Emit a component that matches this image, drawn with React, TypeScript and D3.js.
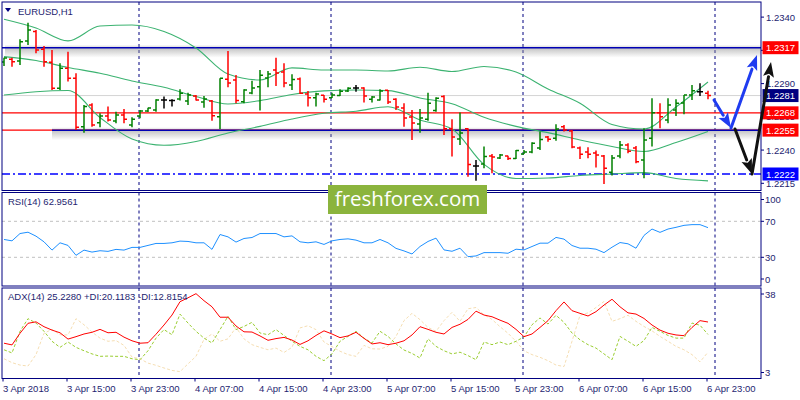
import React, { useEffect, useRef } from "react";
import * as d3 from "d3";

// EURUSD H1, one bar per hour from 3 Apr 07:00
const barOpen = [
  1.23063, 1.23083, 1.2307, 1.23221, 1.23291, 1.23158, 1.2306, 1.22865, 1.23015, 1.2294,
  1.22576, 1.22739, 1.22606, 1.22657, 1.22619, 1.22664, 1.22589, 1.22657, 1.22694, 1.22702,
  1.22777, 1.22772, 1.22785, 1.2277, 1.22807, 1.22762, 1.2277, 1.22651, 1.22933, 1.22927,
  1.22764, 1.2283, 1.22877, 1.22942, 1.23003, 1.22988, 1.2289, 1.22935, 1.22822, 1.22794,
  1.22812, 1.22794, 1.2281, 1.22845, 1.22867, 1.22867, 1.22782, 1.22777, 1.2285, 1.22782,
  1.22717, 1.22649, 1.22597, 1.22632, 1.22697, 1.22802, 1.22561, 1.22484, 1.22561, 1.22281,
  1.22296, 1.22356, 1.22341, 1.22356, 1.22336, 1.22371, 1.22386, 1.22416, 1.22499, 1.22489,
  1.22576, 1.22544, 1.22416, 1.22386, 1.22378, 1.22356, 1.22233, 1.22356, 1.22439, 1.22416,
  1.22326, 1.22489, 1.22681, 1.22627, 1.22702, 1.22754, 1.22815, 1.22839, 1.22827,
];
const barHigh = [
  1.23095, 1.23095, 1.23233, 1.23358, 1.23303, 1.23183, 1.23153, 1.23053, 1.2314, 1.22978,
  1.22739, 1.22752, 1.22677, 1.22727, 1.22689, 1.22709, 1.22647, 1.22702, 1.22719, 1.22782,
  1.22802, 1.22782, 1.22858, 1.22832, 1.22815, 1.22807, 1.22777, 1.2294, 1.23146, 1.22965,
  1.22858, 1.22922, 1.23003, 1.22995, 1.23095, 1.23053, 1.2297, 1.22945, 1.22845, 1.22832,
  1.22815, 1.22832, 1.22858, 1.22873, 1.2289, 1.22873, 1.22807, 1.22858, 1.22852, 1.2279,
  1.22752, 1.22702, 1.22709, 1.22832, 1.22797, 1.22812, 1.22632, 1.22682, 1.22564, 1.22326,
  1.22426, 1.22371, 1.22371, 1.22358, 1.22401, 1.22401, 1.22459, 1.22539, 1.22506, 1.22594,
  1.22589, 1.22551, 1.22426, 1.22421, 1.22396, 1.22363, 1.22363, 1.22469, 1.22451, 1.22431,
  1.22564, 1.2279, 1.22752, 1.2279, 1.22782, 1.22815, 1.2289, 1.22902, 1.22847,
];
const barLow = [
  1.23033, 1.23027, 1.2304, 1.23191, 1.23128, 1.23027, 1.22852, 1.22852, 1.22915, 1.22551,
  1.22531, 1.22576, 1.22572, 1.22614, 1.22602, 1.22602, 1.22572, 1.22639, 1.22687, 1.22689,
  1.22712, 1.22727, 1.22772, 1.22739, 1.22772, 1.22719, 1.22621, 1.22559, 1.22873, 1.22752,
  1.22752, 1.2282, 1.22697, 1.22873, 1.22882, 1.22873, 1.22852, 1.22822, 1.22727, 1.22727,
  1.22757, 1.22792, 1.22807, 1.22837, 1.22839, 1.22757, 1.22757, 1.22772, 1.22747, 1.22702,
  1.22576, 1.22476, 1.22531, 1.22621, 1.22689, 1.22514, 1.22351, 1.22439, 1.222, 1.2217,
  1.22263, 1.22226, 1.22333, 1.22326, 1.22333, 1.22371, 1.22376, 1.22401, 1.22463, 1.22471,
  1.22539, 1.22414, 1.22333, 1.22339, 1.22268, 1.22145, 1.22208, 1.22339, 1.22376, 1.22301,
  1.22188, 1.22426, 1.22564, 1.22602, 1.22657, 1.2267, 1.22777, 1.22807, 1.22782,
];
const barClose = [
  1.23093, 1.23065, 1.23215, 1.23303, 1.23153, 1.23065, 1.22865, 1.23015, 1.2294, 1.22572,
  1.22727, 1.22589, 1.22657, 1.22627, 1.22664, 1.22632, 1.22632, 1.22694, 1.22717, 1.22777,
  1.22777, 1.22772, 1.22828, 1.22815, 1.22777, 1.22785, 1.22659, 1.2294, 1.22905, 1.22772,
  1.22852, 1.22867, 1.22963, 1.22973, 1.2298, 1.22905, 1.2293, 1.22828, 1.22794, 1.22822,
  1.22782, 1.22815, 1.22842, 1.22865, 1.22867, 1.22807, 1.228, 1.22845, 1.22762, 1.22724,
  1.22642, 1.22604, 1.22642, 1.22752, 1.2279, 1.22561, 1.22499, 1.22529, 1.22291, 1.22281,
  1.22351, 1.22348, 1.22363, 1.22336, 1.22396, 1.22386, 1.22451, 1.22479, 1.22482, 1.22559,
  1.22551, 1.22424, 1.22369, 1.22369, 1.22363, 1.22263, 1.22341, 1.22439, 1.22391, 1.22313,
  1.22476, 1.22681, 1.22651, 1.22739, 1.22752, 1.22815, 1.22847, 1.22839, 1.2281,
];

// Bollinger bands read every 4 bars
const bandBars = [0, 4, 8, 12, 16, 20, 24, 28, 32, 36, 40, 44, 48, 52, 56, 60, 64, 68, 72, 76, 80, 84, 88];
const bbUpper = [
  1.23384, 1.23318, 1.23221, 1.23333, 1.23341, 1.23292, 1.23168, 1.22972, 1.22927, 1.23018, 1.23002, 1.23002,
  1.22995, 1.23023, 1.22991, 1.23029, 1.22987, 1.2286, 1.22752, 1.22593, 1.22559, 1.22724, 1.22912,
];
const bbMiddle = [
  1.23103, 1.23074, 1.23021, 1.22978, 1.2292, 1.22872, 1.22803, 1.22747, 1.22772, 1.22818, 1.22845, 1.22852,
  1.22847, 1.22792, 1.22749, 1.22647, 1.22578, 1.22531, 1.22476, 1.22427, 1.22389, 1.22457, 1.2254,
];
const bbLower = [
  1.22814, 1.22839, 1.22848, 1.22645, 1.22483, 1.22436, 1.22465, 1.22529, 1.22578, 1.22634, 1.22677, 1.22692,
  1.22726, 1.22626, 1.22559, 1.22292, 1.22186, 1.2219, 1.22209, 1.2222, 1.2223, 1.22186, 1.22168,
];

const rsi = [
  49.8, 48.3, 56.4, 57.9, 53.5, 47.2, 38.0, 46.1, 43.2, 32.2,
  38.0, 35.8, 37.3, 36.6, 38.8, 38.0, 41.0, 41.0, 43.2, 45.4,
  45.4, 46.1, 48.0, 47.6, 46.1, 46.1, 38.8, 55.3, 52.7, 46.9,
  50.9, 52.0, 56.4, 56.4, 56.4, 52.7, 53.8, 47.2, 46.1, 47.2,
  44.3, 48.3, 49.8, 50.5, 49.1, 46.1, 46.1, 49.8, 46.1, 39.9,
  37.1, 33.7, 42.0, 47.6, 51.3, 38.2, 36.7, 40.1, 30.7, 31.5,
  35.2, 35.2, 35.2, 34.5, 39.0, 38.2, 42.0, 45.7, 45.7, 52.1,
  50.2, 43.1, 40.1, 40.1, 39.0, 35.2, 41.2, 46.4, 45.0, 40.1,
  54.3, 61.4, 57.7, 61.4, 63.3, 65.5, 66.3, 66.3, 62.96,
];
const adx = [
  16.5, 15.8, 20.6, 24.7, 25.3, 23.3, 21.9, 20.8, 18.2, 19.2,
  20.3, 21.0, 22.2, 20.8, 21.0, 19.0, 17.5, 16.5, 16.7, 20.2,
  24.0, 28.1, 33.6, 35.2, 36.9, 34.0, 31.5, 27.2, 27.2, 23.6,
  21.2, 21.1, 19.5, 17.7, 18.4, 18.9, 17.8, 16.0, 17.5, 19.7,
  21.6, 20.3, 18.8, 19.5, 21.0, 18.5, 16.2, 16.7, 15.9, 16.5,
  17.5, 19.9, 23.3, 22.2, 21.0, 20.3, 23.0, 24.3, 26.3, 29.7,
  28.1, 27.4, 26.0, 24.7, 22.2, 19.2, 20.3, 23.0, 25.8, 29.9,
  33.5, 29.9, 28.8, 27.7, 29.5, 32.2, 34.6, 31.5, 29.0, 28.5,
  26.7, 24.0, 21.9, 20.6, 19.9, 19.6, 23.0, 25.8, 25.23,
];
const plusDi = [
  13.8, 12.5, 21.4, 26.6, 24.8, 21.4, 17.3, 14.8, 17.0, 14.8,
  13.4, 12.1, 11.1, 11.2, 11.1, 11.1, 10.1, 9.7, 13.4, 18.6,
  22.1, 20.0, 28.5, 24.8, 21.4, 18.6, 16.6, 22.1, 27.6, 22.1,
  23.4, 25.1, 20.7, 20.0, 22.1, 19.7, 17.3, 15.2, 13.8, 11.1,
  9.3, 12.1, 17.3, 19.3, 21.4, 18.6, 16.6, 21.4, 19.3, 16.2,
  13.7, 12.3, 10.4, 18.3, 15.2, 13.4, 12.1, 12.8, 11.4, 9.7,
  17.0, 15.9, 17.0, 15.9, 17.3, 19.1, 24.1, 26.9, 24.4, 28.0,
  25.1, 20.7, 17.9, 15.9, 14.5, 12.1, 9.7, 19.3, 17.3, 15.2,
  17.6, 23.0, 21.4, 19.7, 18.6, 18.6, 24.8, 23.9, 20.12,
];
const minusDi = [
  10.1, 8.5, 7.5, 7.1, 11.8, 20.6, 22.2, 20.0, 19.9, 26.6,
  24.1, 21.1, 18.6, 17.3, 17.6, 15.6, 10.8, 10.1, 8.3, 7.4,
  6.3, 5.3, 4.8, 8.0, 11.1, 18.1, 20.3, 17.3, 18.3, 23.0,
  18.3, 15.9, 14.8, 13.8, 14.5, 12.7, 14.8, 22.8, 23.7, 22.1,
  17.0, 15.1, 13.2, 11.8, 11.1, 15.6, 14.2, 14.1, 15.2, 19.3,
  25.8, 28.8, 26.2, 23.0, 21.4, 25.8, 29.2, 25.5, 30.7, 31.2,
  28.2, 26.3, 23.3, 20.6, 17.3, 13.4, 11.8, 10.7, 9.3, 7.5,
  6.9, 17.3, 28.0, 29.0, 31.2, 33.7, 25.5, 26.6, 28.0, 25.5,
  23.4, 21.6, 19.3, 17.3, 15.2, 13.8, 11.8, 8.8, 12.82,
];

const timeLabels = [
  "3 Apr 2018", "3 Apr 15:00", "3 Apr 23:00", "4 Apr 07:00", "4 Apr 15:00", "4 Apr 23:00",
  "5 Apr 07:00", "5 Apr 15:00", "5 Apr 23:00", "6 Apr 07:00", "6 Apr 15:00", "6 Apr 23:00",
];
const timeLabelBars = [0, 8, 16, 24, 32, 40, 48, 56, 64, 72, 80, 88];
const daySeparatorBars = [17, 41, 65, 89];

const priceTicks = [1.234, 1.2315, 1.229, 1.2265, 1.224, 1.2215];
const rsiTicks = [100, 70, 30, 0];
const rsiLevels = [70, 30];
const adxTicks = [38, 3];

const resistance = 1.2317;
const support = 1.2255;
const supportStartBar = 6;
const pivot = 1.2268;
const bid = 1.2281;
const lowTarget = 1.2222;
const tagValues = [1.2317, 1.2281, 1.2268, 1.2255, 1.2222];

// hand-drawn forecast arrows (bar index, price)
const blueArrowBars = [88.75, 90.875, 94.125];
const blueArrowPrices = [1.22777, 1.22566, 1.23115];
const blackArrowBars = [91.375, 93.5, 95.875];
const blackArrowPrices = [1.22559, 1.2222, 1.23063];

export default function App() {
  const svgRef = useRef<SVGSVGElement | null>(null);

  useEffect(() => {
    if (!svgRef.current) return;
    const svg = d3.select(svgRef.current);
    svg.selectAll("*").remove();

    const FONT = "'Liberation Sans', Arial, sans-serif";
    const NAVY = "#000080";
    const TXT = "#1e1e70";
    const left = 2;
    const right = 761;
    const main = { top: 2, bottom: 190.5 };
    const rsiP = { top: 192.5, bottom: 286 };
    const adxP = { top: 288, bottom: 378.5 };

    const x = d3.scaleLinear().domain([0, 88]).range([4, 708]);
    const y = d3.scaleLinear().domain([1.2222, 1.2317]).range([174, 47.7]);
    const yR = d3.scaleLinear().domain([30, 70]).range([257.3, 221.3]);
    const yA = d3.scaleLinear().domain([3, 38]).range([376, 291]);

    svg.append("rect").attr("width", 800).attr("height", 400).attr("fill", "#fff");

    const defs = svg.append("defs");
    const grad = defs.append("linearGradient").attr("id", "shade").attr("x1", 0).attr("x2", 0).attr("y1", 0).attr("y2", 1);
    grad.append("stop").attr("offset", "0%").attr("stop-color", "#999").attr("stop-opacity", 0);
    grad.append("stop").attr("offset", "30%").attr("stop-color", "#999").attr("stop-opacity", 0.55);
    grad.append("stop").attr("offset", "100%").attr("stop-color", "#999").attr("stop-opacity", 0);

    const panels = [
      { id: "clipMain", p: main },
      { id: "clipRsi", p: rsiP },
      { id: "clipAdx", p: adxP },
    ];
    panels.forEach(({ id, p }) => {
      defs.append("clipPath").attr("id", id).append("rect")
        .attr("x", left).attr("y", p.top).attr("width", right - left).attr("height", p.bottom - p.top);
    });

    // day separators across all panels
    panels.forEach(({ p }) => {
      daySeparatorBars.forEach((b) => {
        svg.append("line")
          .attr("x1", x(b) - 1).attr("x2", x(b) - 1)
          .attr("y1", p.top).attr("y2", p.bottom)
          .attr("stroke", NAVY).attr("stroke-width", 1).attr("stroke-dasharray", "3,3");
      });
    });

    // ---------- main price panel ----------
    const gm = svg.append("g").attr("clip-path", "url(#clipMain)");

    gm.append("line").attr("x1", left).attr("x2", right).attr("y1", y(bid)).attr("y2", y(bid))
      .attr("stroke", "#d4d4d4").attr("stroke-width", 1);

    // shaded blue levels
    gm.append("rect").attr("x", left + 3).attr("width", right - left - 3)
      .attr("y", y(resistance) - 3).attr("height", 13).attr("fill", "url(#shade)");
    gm.append("rect").attr("x", x(supportStartBar)).attr("width", right - x(supportStartBar))
      .attr("y", y(support) - 3).attr("height", 13).attr("fill", "url(#shade)");

    gm.append("line").attr("x1", left).attr("x2", right).attr("y1", y(pivot)).attr("y2", y(pivot))
      .attr("stroke", "#ff0000").attr("stroke-width", 1.3);
    gm.append("line").attr("x1", left).attr("x2", right).attr("y1", y(support)).attr("y2", y(support))
      .attr("stroke", "#ff0000").attr("stroke-width", 1.3);
    gm.append("line").attr("x1", x(supportStartBar)).attr("x2", right).attr("y1", y(support)).attr("y2", y(support))
      .attr("stroke", "#0000b4").attr("stroke-width", 1.5);
    gm.append("line").attr("x1", left).attr("x2", right).attr("y1", y(resistance)).attr("y2", y(resistance))
      .attr("stroke", "#0000b4").attr("stroke-width", 1.5);
    gm.append("line").attr("x1", left).attr("x2", right).attr("y1", y(lowTarget)).attr("y2", y(lowTarget))
      .attr("stroke", "#0000ff").attr("stroke-width", 1.5).attr("stroke-dasharray", "8,3,2,3");

    // bollinger bands
    [bbUpper, bbMiddle, bbLower].forEach((band) => {
      const line = d3.line<number>()
        .x((_, k) => x(bandBars[k]))
        .y((v) => y(v))
        .curve(d3.curveMonotoneX);
      gm.append("path").datum(band).attr("fill", "none")
        .attr("stroke", "#3cb371").attr("stroke-width", 1.1).attr("d", line);
    });

    // OHLC bars
    barOpen.forEach((o, i) => {
      const c = barClose[i];
      const col = c > o ? "#008000" : c < o ? "#ff0000" : "#000000";
      const cx = x(i);
      gm.append("line").attr("x1", cx).attr("x2", cx).attr("y1", y(barHigh[i])).attr("y2", y(barLow[i]))
        .attr("stroke", col).attr("stroke-width", 1.5);
      gm.append("line").attr("x1", cx - 3).attr("x2", cx).attr("y1", y(o)).attr("y2", y(o))
        .attr("stroke", col).attr("stroke-width", 1.5);
      gm.append("line").attr("x1", cx).attr("x2", cx + 3).attr("y1", y(c)).attr("y2", y(c))
        .attr("stroke", col).attr("stroke-width", 1.5);
    });

    svg.append("path").attr("d", "M5,8 L11,8 L8,12 Z").attr("fill", NAVY);
    svg.append("text").attr("x", 18).attr("y", 15).text("EURUSD,H1")
      .attr("font-family", FONT).attr("font-size", 9.5).attr("fill", TXT);

    // ---------- RSI panel ----------
    const gr = svg.append("g").attr("clip-path", "url(#clipRsi)");
    rsiLevels.forEach((lv) => {
      gr.append("line").attr("x1", left).attr("x2", right).attr("y1", yR(lv)).attr("y2", yR(lv))
        .attr("stroke", "#c0c0c0").attr("stroke-dasharray", "3,3");
    });
    gr.append("path").datum(rsi).attr("fill", "none").attr("stroke", "#1e90ff").attr("stroke-width", 1)
      .attr("d", d3.line<number>().x((_, i) => x(i)).y((v) => yR(v)));
    svg.append("text").attr("x", 8).attr("y", 205).text("RSI(14) 62.9561")
      .attr("font-family", FONT).attr("font-size", 9.5).attr("fill", TXT);

    // ---------- ADX panel ----------
    const ga = svg.append("g").attr("clip-path", "url(#clipAdx)");
    const adxLine = d3.line<number>().x((_, i) => x(i)).y((v) => yA(v));
    ga.append("path").datum(minusDi).attr("fill", "none").attr("stroke", "#f5deb3")
      .attr("stroke-width", 1).attr("stroke-dasharray", "3,2").attr("d", adxLine);
    ga.append("path").datum(plusDi).attr("fill", "none").attr("stroke", "#9acd32")
      .attr("stroke-width", 1).attr("stroke-dasharray", "3,2").attr("d", adxLine);
    ga.append("path").datum(adx).attr("fill", "none").attr("stroke", "#ff0000")
      .attr("stroke-width", 1).attr("d", adxLine);
    svg.append("text").attr("x", 8).attr("y", 300).text("ADX(14) 25.2280 +DI:20.1183 -DI:12.8154")
      .attr("font-family", FONT).attr("font-size", 9.5).attr("fill", TXT);

    // ---------- frames ----------
    panels.forEach(({ p }) => {
      svg.append("rect").attr("x", left).attr("y", p.top).attr("width", right - left).attr("height", p.bottom - p.top)
        .attr("fill", "none").attr("stroke", NAVY).attr("stroke-width", 1);
    });

    // ---------- right axis ----------
    const label = (tx: string, ty: number, fill = TXT, xx = 766) =>
      svg.append("text").attr("x", xx).attr("y", ty + 3.5).text(tx)
        .attr("font-family", FONT).attr("font-size", 9.5).attr("fill", fill);

    priceTicks.forEach((v) => {
      svg.append("line").attr("x1", right).attr("x2", right + 3).attr("y1", y(v)).attr("y2", y(v)).attr("stroke", NAVY);
      label(v.toFixed(4), y(v));
    });
    rsiTicks.forEach((v) => {
      const ty = Math.max(rsiP.top + 7, Math.min(rsiP.bottom - 7, yR(v)));
      svg.append("line").attr("x1", right).attr("x2", right + 3).attr("y1", ty).attr("y2", ty).attr("stroke", NAVY);
      label(String(v), ty, TXT, 765);
    });
    adxTicks.forEach((v) => {
      const ty = Math.max(adxP.top + 6, Math.min(adxP.bottom - 6, yA(v)));
      svg.append("line").attr("x1", right).attr("x2", right + 3).attr("y1", ty).attr("y2", ty).attr("stroke", NAVY);
      label(String(v), ty, TXT, 765);
    });

    const tagFill = (v: number) =>
      v === bid ? "#000080" : v === lowTarget ? "#0000ff" : "#ff0000";
    tagValues.forEach((v) => {
      svg.append("rect").attr("x", right + 1.5).attr("y", y(v) - 6.5).attr("width", 36).attr("height", 13)
        .attr("fill", tagFill(v));
      label(v.toFixed(4), y(v), "#ffffff");
    });

    // ---------- time axis ----------
    timeLabels.forEach((t, k) => {
      const tx = x(timeLabelBars[k]) - 1;
      svg.append("line").attr("x1", tx).attr("x2", tx).attr("y1", adxP.bottom).attr("y2", adxP.bottom + 3).attr("stroke", NAVY);
      svg.append("text").attr("x", tx).attr("y", 392).text(t)
        .attr("font-family", FONT).attr("font-size", 9.5).attr("fill", TXT);
    });

    // ---------- watermark ----------
    svg.append("rect").attr("x", 328).attr("y", 185).attr("width", 159).attr("height", 29).attr("fill", "#8bb43d");
    svg.append("text").attr("x", 407.5).attr("y", 206).attr("text-anchor", "middle").text("freshforex.com")
      .attr("font-family", "'Open Sans', 'Noto Sans', sans-serif").attr("font-size", 20.5).attr("fill", "#ffffff");

    // ---------- forecast arrows ----------
    const arrow = (x0: number, y0: number, x1: number, y1: number, color: string) => {
      const ang = Math.atan2(y1 - y0, x1 - x0);
      const L = 15;
      const Wd = 5.5;
      const bx = x1 - L * Math.cos(ang);
      const by = y1 - L * Math.sin(ang);
      svg.append("line").attr("x1", x0).attr("y1", y0).attr("x2", bx).attr("y2", by)
        .attr("stroke", color).attr("stroke-width", 3).attr("stroke-linecap", "round");
      const pts = [
        [x1, y1],
        [bx + Wd * Math.sin(ang), by - Wd * Math.cos(ang)],
        [bx + 3 * Math.cos(ang), by + 3 * Math.sin(ang)],
        [bx - Wd * Math.sin(ang), by + Wd * Math.cos(ang)],
      ];
      svg.append("polygon").attr("points", pts.map((p) => p.join(",")).join(" ")).attr("fill", color);
    };
    const drawPath = (bars: number[], prices: number[], color: string) => {
      for (let k = 0; k < bars.length - 1; k++) {
        arrow(x(bars[k]), y(prices[k]), x(bars[k + 1]), y(prices[k + 1]), color);
      }
    };
    drawPath(blueArrowBars, blueArrowPrices, "#1f3cf0");
    drawPath(blackArrowBars, blackArrowPrices, "#111111");
  }, []);

  return (
    <svg
      ref={svgRef}
      width={800}
      height={400}
      style={{ display: "block", position: "absolute", left: 0, top: 0 }}
    />
  );
}
